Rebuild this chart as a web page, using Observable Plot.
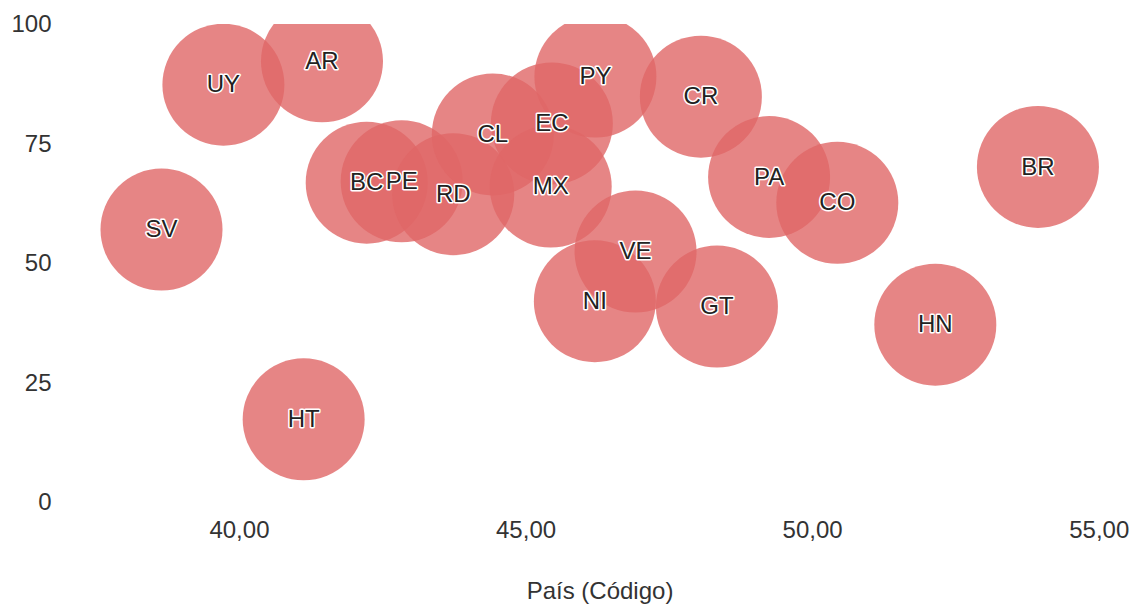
<!DOCTYPE html>
<html>
<head>
<meta charset="utf-8">
<script src="https://cdn.jsdelivr.net/npm/d3@7"></script>
<script src="https://cdn.jsdelivr.net/npm/@observablehq/plot@0.6"></script>
<style>
  html, body { margin: 0; padding: 0; background: #fff; }
  #chart { width: 1132px; height: 606px; }
</style>
</head>
<body>
<div id="chart"></div>
<script>
const codes = ["UY","AR","SV","HT","BC","PE","RD","CL","EC","MX","PY","CR","PA","CO","BR","HN","GT","VE","NI"];
const xValues = [39.72,41.44,38.64,41.12,42.22,42.83,43.73,44.42,45.45,45.43,46.21,48.05,49.24,50.43,53.93,52.14,48.33,46.91,46.20];
const yValues = [87.4,92.3,57.1,17.4,66.9,67.2,64.5,77.0,79.3,66.1,89.1,84.9,68.1,62.7,70.2,37.2,41.0,52.5,42.1];
const xTicks = [40,45,50,55];
const yTicks = [0,25,50,75,100];
const xLabel = "País (Código)";

const data = codes.map((c, i) => ({code: c, x: xValues[i], y: yValues[i]}));

const chart = Plot.plot({
  width: 1132,
  height: 606,
  marginTop: 24,
  marginBottom: 104,
  marginLeft: 67,
  marginRight: 0,
  style: {fontFamily: "'Liberation Sans', Arial, sans-serif", fontSize: "24px", color: "#333", background: "#fff"},
  x: {domain: [37, 55.58], ticks: xTicks},
  y: {domain: [0, 100], ticks: yTicks},
  marks: [
    Plot.dot(data, {x: "x", y: "y", r: 61, fill: "#e06666", fillOpacity: 0.8, stroke: null, clip: true}),
    Plot.text(data, {x: "x", y: "y", text: "code", fontSize: 24, fill: "#222", stroke: "white", strokeWidth: 3, clip: true}),
    Plot.axisX({ticks: xTicks, tickSize: 0, tickPadding: 18, fontSize: 24,
      tickFormat: d => d.toFixed(2).replace(".", ","), label: null}),
    Plot.axisY({ticks: yTicks, tickSize: 0, tickPadding: 16, fontSize: 24, label: null}),
    Plot.text([xLabel], {frameAnchor: "bottom", dy: 96, fontSize: 24, fill: "#333"})
  ]
});
document.getElementById("chart").appendChild(chart);
</script>
</body>
</html>
